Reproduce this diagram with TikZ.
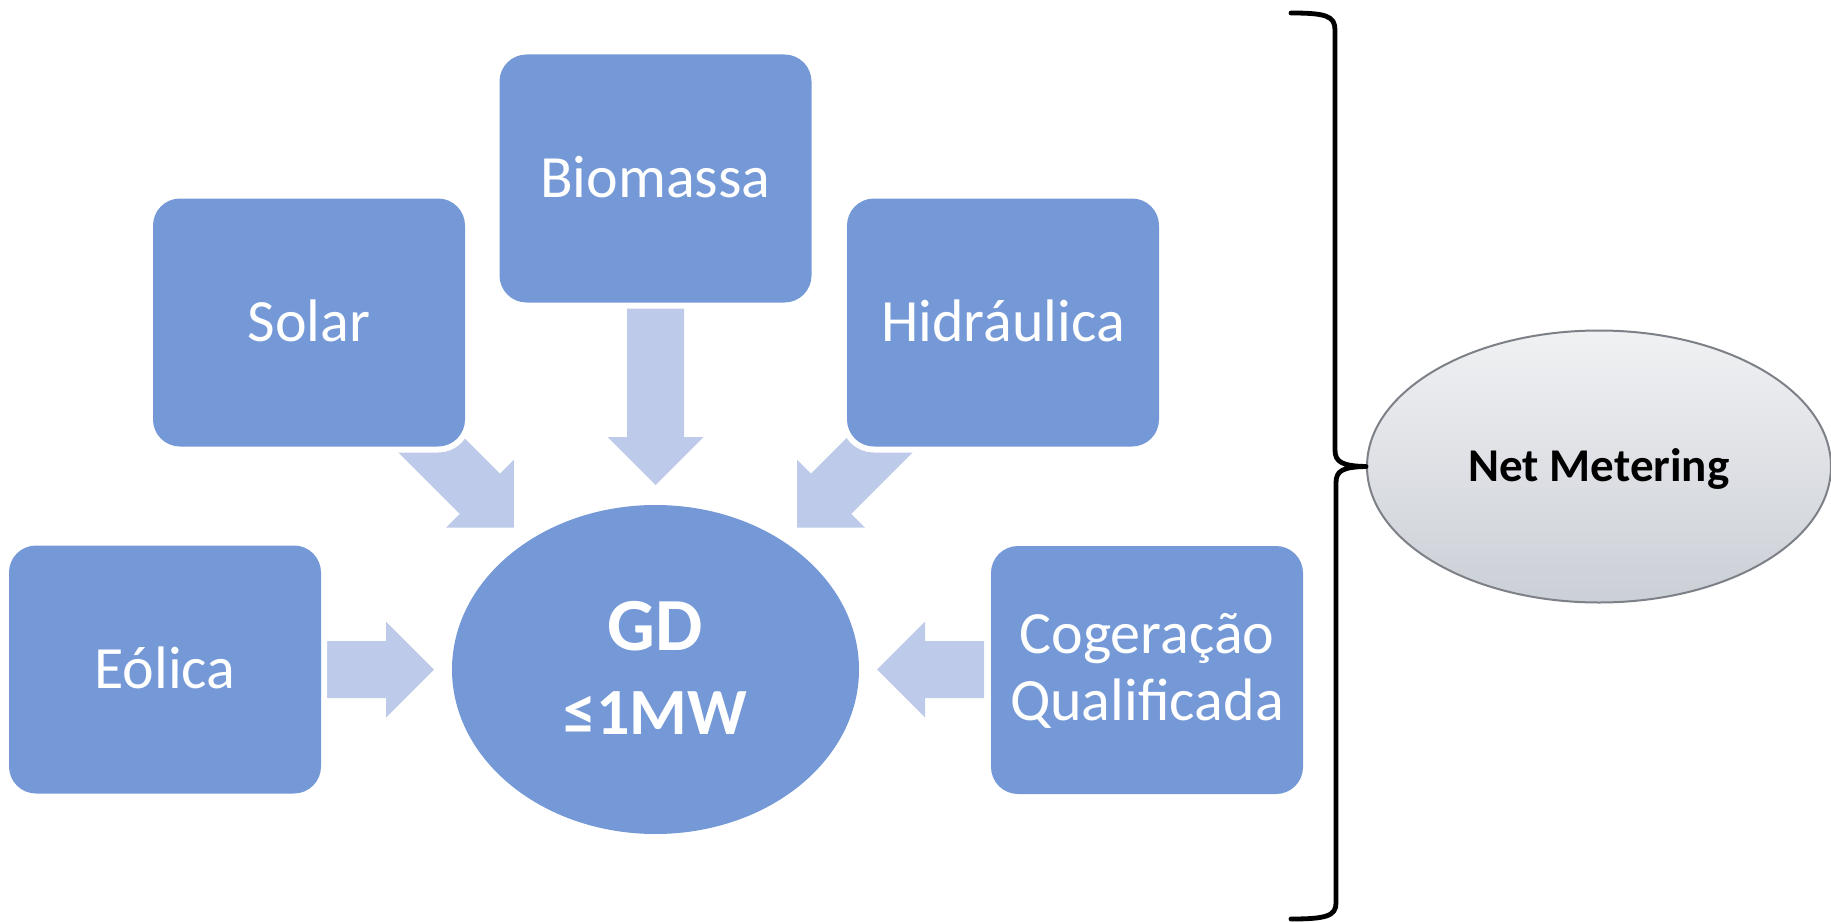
\documentclass[tikz,border=0pt]{standalone}
\usepackage{fontspec}
\setmainfont{Carlito}
\usetikzlibrary{shapes.geometric}
\definecolor{boxblue}{RGB}{117,153,215}
\definecolor{arrowblue}{RGB}{189,202,233}
\definecolor{nmtop}{RGB}{240,241,243}
\definecolor{nmbot}{RGB}{203,207,214}
\definecolor{nmline}{RGB}{125,128,135}
\tikzset{
  srcbox/.style={rectangle, rounded corners=27pt, minimum width=312pt, minimum height=248pt,
    inner sep=0pt, fill=boxblue, text=white, preaction={draw=white, line width=12pt},
    font=\fontsize{60}{67}\selectfont, text height=37.9pt, text depth=0pt, align=center},
  gdnode/.style={ellipse, fill=boxblue, minimum width=407pt, minimum height=329pt, inner sep=0pt,
    text=white, align=center, font=\bfseries\fontsize{75}{84}\selectfont},
  nmnode/.style={ellipse, top color=nmtop, bottom color=nmbot, draw=nmline, line width=2pt,
    minimum width=464pt, minimum height=272pt, inner sep=0pt,
    font=\bfseries\fontsize{47}{56}\selectfont, text height=29.7pt, text depth=0pt},
  bracket/.style={draw=black, line width=4.8pt, line join=round, line cap=round},
  arrowfill/.style={fill=arrowblue}
}
\newcommand\blockarrow[3]{%
  \fill[arrowfill, shift={(#1)}, rotate=#2] (0,0) -- (-48,48) -- (-48,28.5) -- ({-48-#3},28.5)
    -- ({-48-#3},-28.5) -- (-48,-28.5) -- (-48,-48) -- cycle;}
\begin{document}
\begin{tikzpicture}[x=1pt,y=-1pt]
\useasboundingbox (0,0) rectangle (1831,923);
% arrow tips
\coordinate (tBio) at (655.5,485);
\coordinate (tSol) at (513.8,527.7);
\coordinate (tHid) at (797.2,527.7);
\coordinate (tEol) at (434,669.5);
\coordinate (tCog) at (877,669.5);
\blockarrow{tBio}{-90}{129}
\blockarrow{tSol}{-45}{112}
\blockarrow{tHid}{-135}{112}
\blockarrow{tEol}{0}{60}
\blockarrow{tCog}{180}{59}
% source boxes
\node[srcbox] (solar) at (309,322.5) {Solar};
\node[srcbox] (bio) at (655.5,178.5) {Biomassa};
\node[srcbox] (hid) at (1003,322.5) {Hidráulica};
\node[srcbox] (eol) at (165,669.5) {Eólica};
\node[srcbox, text height=104.9pt, text depth=4.9pt] (cog) at (1147,670) {Cogeração\\Qualificada};
% GD
\node[gdnode, text height=131.4pt, text depth=0.5pt] (gd) at (655.5,669.5)
  {GD\\{\fontsize{66}{84}\selectfont ≤1MW}};
% Net Metering
\node[nmnode] (nm) at (1599,466.5) {Net Metering};
% brace
\draw[bracket] (1291,13) .. controls (1326,13) and (1335,16) .. (1335,30) -- (1335,450)
  .. controls (1335,462) and (1342,466) .. (nm.west)
  .. controls (1342,467) and (1336,471) .. (1336,483) -- (1336,903)
  .. controls (1336,916) and (1326,919) .. (1291,919);
\end{tikzpicture}
\end{document}
